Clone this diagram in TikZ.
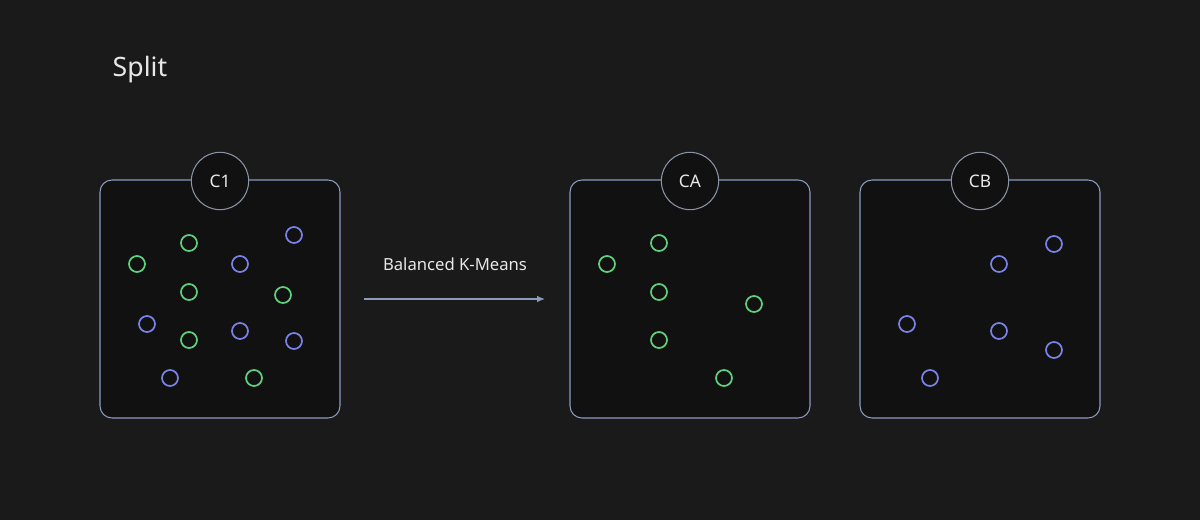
\documentclass[tikz,border=0pt]{standalone}
\usepackage{fontspec}
\setmainfont{Noto Sans}
\usetikzlibrary{arrows.meta}
\begin{document}
\definecolor{bg}{HTML}{1A1A1A}
\definecolor{boxfill}{HTML}{111111}
\definecolor{boxline}{HTML}{8A9CC0}
\definecolor{circline}{HTML}{8A93A3}
\definecolor{gdot}{HTML}{5FD07E}
\definecolor{bdot}{HTML}{7A82E8}
\definecolor{txt}{HTML}{E8E8E8}
\definecolor{arr}{HTML}{8A9CB8}
\begin{tikzpicture}[x=0.75pt,y=-0.75pt,
  box/.style={draw=boxline,fill=boxfill,line width=0.8pt,rounded corners=9pt},
  lab/.style={circle,draw=circline,fill=boxfill,line width=0.8pt,minimum size=43pt,inner sep=0pt,text=txt,font=\fontsize{13}{13}\selectfont\bfseries},
  g/.style={circle,draw=gdot,line width=1.3pt,minimum size=12pt,inner sep=0pt},
  b/.style={circle,draw=bdot,line width=1.3pt,minimum size=12pt,inner sep=0pt}]
\fill[bg] (0,0) rectangle (1200,520);
\useasboundingbox (0,0) rectangle (1200,520);
\node[anchor=west,text=txt,font=\fontsize{20}{20}\selectfont] (title) at (108,70) {Split};
\foreach \n/\x in {c1/100,ca/570,cb/860}{
  \draw[box] (\x,180) rectangle (\x+240,418);
}
\node[lab] (l1) at (220,181) {C1};
\node[lab] (la) at (690,181) {CA};
\node[lab] (lb) at (980,181) {CB};
% C1
\foreach \i/\x/\y in {1/137/264,2/189/243,3/189/292,4/283/295,5/189/340,6/254/378}
  \node[g] (g\i) at (\x,\y) {};
\foreach \i/\x/\y in {1/294/235,2/240/264,3/147/324,4/240/331,5/294/341,6/170/378}
  \node[b] (b\i) at (\x,\y) {};
% CA
\foreach \i/\x/\y in {1/607/264,2/659/243,3/659/292,4/754/304,5/659/340,6/724/378}
  \node[g] (ag\i) at (\x,\y) {};
% CB
\foreach \i/\x/\y in {1/1054/244,2/999/264,3/907/324,4/999/331,5/1054/350,6/930/378}
  \node[b] (bb\i) at (\x,\y) {};
\coordinate (as) at (364,299);
\coordinate (ae) at (545,299);
\draw[arr,line width=1pt,-{Latex[length=6pt,width=5pt]}] (as) -- (ae);
\node[text=txt,font=\fontsize{12.5}{12.5}\selectfont] (al) at (455,264) {Balanced K-Means};
\end{tikzpicture}
\end{document}
